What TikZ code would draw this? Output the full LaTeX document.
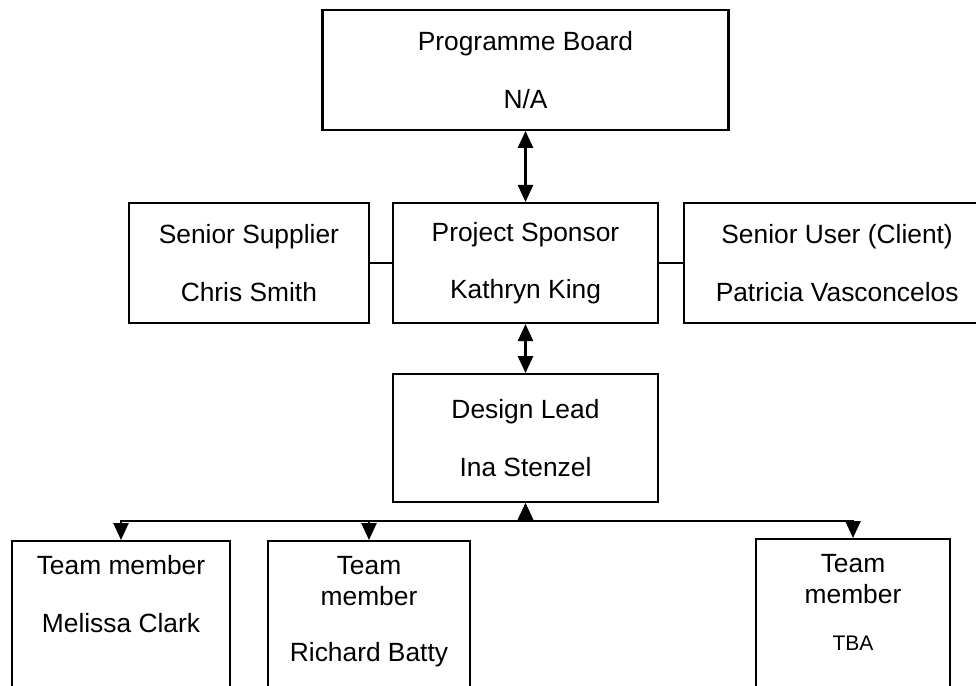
\documentclass[tikz,border=0pt]{standalone}
\usepackage{fontspec}
\setmainfont{Liberation Sans}
\usetikzlibrary{arrows.meta,positioning}
\tikzset{
  blk/.style={draw,rectangle,line width=1.2pt,minimum height=2.4cm,inner sep=0pt,align=center,font=\fontsize{15}{18}\selectfont},
  tmblk/.style={draw,rectangle,line width=1.2pt,anchor=north,minimum height=3.5cm},
  tmtxt/.style={inner sep=0pt,align=center,font=\fontsize{15}{18}\selectfont},
  arr/.style={{Triangle[length=0.34cm,width=0.3cm]}-{Triangle[length=0.34cm,width=0.3cm]},line width=1.5pt},
  lnk/.style={line width=1.2pt}
}

\begin{document}
\begin{tikzpicture}
  \useasboundingbox (-10.51,5.26) rectangle (9.01,-8.44);
  \clip (-10.51,5.26) rectangle (9.01,-8.44);

  \node[blk, minimum width=5.3cm] (sponsor) {Project Sponsor\\[0.52cm]Kathryn King};
  \node[blk, minimum width=8.12cm, above=1.42cm of sponsor] (board) {Programme Board\\[0.52cm]N/A};
  \node[blk, minimum width=4.8cm, left=0.44cm of sponsor] (supplier) {Senior Supplier\\[0.52cm]Chris Smith};
  \node[blk, minimum width=6.12cm, right=0.48cm of sponsor] (user) {Senior User (Client)\\[0.52cm]Patricia Vasconcelos};
  \node[blk, minimum width=5.3cm, minimum height=2.56cm, below=0.98cm of sponsor] (lead) {Design Lead\\[0.52cm]Ina Stenzel};

  % team members
  \node[tmblk, minimum width=4.36cm] (tm1) at (-8.09,-5.54) {};
  \node[tmblk, minimum width=4.04cm] (tm2) at (-3.13,-5.54) {};
  \node[tmblk, minimum width=3.88cm] (tm3) at (6.55,-5.50) {};
  \node[tmtxt, below=0.31cm of tm1.north] (tm1txt) {Team member\\[0.52cm]Melissa Clark};
  \node[tmtxt, below=0.31cm of tm2.north] (tm2txt) {Team\\member\\[0.48cm]Richard Batty};
  \node[tmtxt, below=0.31cm of tm3.north] (tm3txt) {Team\\member\\[0.3cm]{\fontsize{12}{14}\selectfont TBA}};

  \draw[arr] (board.south) -- (sponsor.north);
  \draw[lnk] (supplier.east) -- (sponsor.west);
  \draw[lnk] (sponsor.east) -- (user.west);
  \draw[arr] (sponsor.south) -- (lead.north);
  \draw[arr] (lead.south) -- ++(0,-0.36) -| (tm1.north);
  \draw[arr] (lead.south) -- ++(0,-0.36) -| (tm2.north);
  \draw[arr] (lead.south) -- ++(0,-0.36) -| (tm3.north);
\end{tikzpicture}
\end{document}
